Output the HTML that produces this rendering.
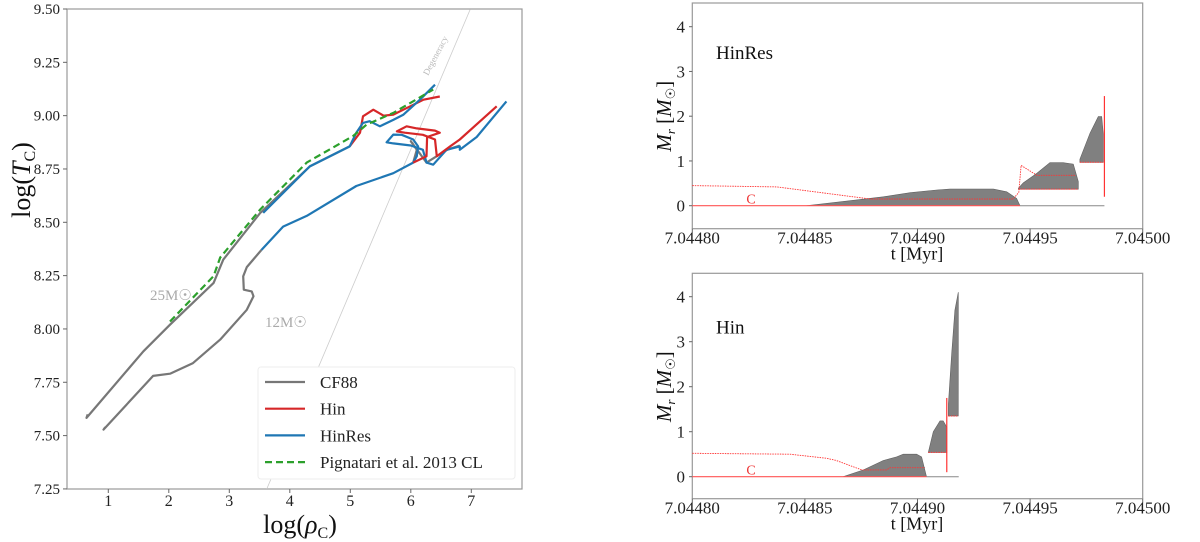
<!DOCTYPE html>
<html><head><meta charset="utf-8">
<style>
body{margin:0;background:#fff;}
svg{display:block;font-family:"Liberation Serif","DejaVu Serif",serif;}
</style></head>
<body>
<svg id="fig" width="1200" height="542" viewBox="0 0 1200 542" xmlns="http://www.w3.org/2000/svg">
<g id="left"></g>
<g id="top"></g>
<g id="bot"></g>
</svg>
<script>
// ---- Left panel data: log(rho_C), log(T_C)
const xTicksL = [1,2,3,4,5,6,7];
const yTicksL = [7.25,7.50,7.75,8.00,8.25,8.50,8.75,9.00,9.25,9.50];
const cf88_25X = [0.66,0.64,1.58,2.02,2.74,2.90,3.51,4.33,4.99];
const cf88_25Y = [7.60,7.583,7.895,8.02,8.216,8.325,8.544,8.762,8.856];
const cf88_12X = [0.95,0.92,1.74,2.02,2.40,2.85,3.29,3.40,3.37,3.24,3.23,3.29,3.53];
const cf88_12Y = [7.54,7.528,7.78,7.79,7.84,7.95,8.09,8.153,8.176,8.184,8.247,8.29,8.37];
const cf88_tailX = [6.04,6.10,6.0,6.26,6.6,6.81];
const cf88_tailY = [8.78,8.84,8.88,8.78,8.84,8.86];
const hinres25X = [3.56,4.33,4.99,5.10,5.21,5.32,5.49,5.71,5.88,6.15,6.40];
const hinres25Y = [8.544,8.762,8.856,8.92,8.966,8.974,8.95,8.98,9.005,9.075,9.145];
const hinres12X = [3.53,3.89,4.28,5.10,5.71,6.04,6.10,6.12,6.04,5.85,5.71,5.60,5.71,6.0,6.20,6.26,6.37,6.59,6.81,6.81,7.09,7.58];
const hinres12Y = [8.37,8.48,8.53,8.67,8.73,8.78,8.81,8.856,8.888,8.91,8.911,8.875,8.87,8.86,8.84,8.78,8.77,8.84,8.856,8.84,8.90,9.067];
const hin25X = [4.99,5.16,5.21,5.38,5.55,5.71,5.99,6.21,6.48];
const hin25Y = [8.856,8.92,8.997,9.028,9.0,9.005,9.044,9.075,9.09];
const hin12X = [6.04,6.26,6.27,6.48,6.40,6.10,5.93,5.77,5.90,6.20,6.40,6.43,6.65,6.81,7.42];
const hin12Y = [8.78,8.81,8.9,8.92,8.93,8.94,8.95,8.926,8.92,8.91,8.888,8.81,8.856,8.888,9.044];
const pigX = [2.02,2.74,2.85,3.51,4.28,5.05,5.27,5.71,6.37];
const pigY = [8.035,8.248,8.335,8.56,8.78,8.905,8.958,9.013,9.122];
const degX = [3.62,6.98];
const degY = [7.25,9.497];

// ---- Right panels data (t offset in 1e-5 Myr from 7.04480)
const xTickLabelsR = ["7.04480","7.04485","7.04490","7.04495","7.04500"];
const xTicksR = [0,5,10,15,20];
const yTicksR = [0,1,2,3,4];
const top_conv1T = [5.08,7.3,8.48,9.67,10.85,11.44,13.37,13.96,14.4,14.55];
const top_conv1M = [0,0.13,0.2,0.29,0.35,0.37,0.37,0.31,0.16,0];
const top_conv2T = [14.48,14.7,15.29,15.88,16.47,16.92,17.14];
const top_conv2M = [0.39,0.51,0.72,0.96,0.96,0.93,0.54];
const top_conv2Base = 0.37;
const top_conv3T = [17.21,17.66,18.03,18.18,18.25];
const top_conv3M = [1.04,1.62,1.99,1.99,1.6];
const top_conv3Base = 0.97;
const top_cT = [0,3.75,7.9,14.25,14.5,14.6,15.3,17.0];
const top_cM = [0.45,0.42,0.15,0.15,0.3,0.9,0.68,0.68];
const bot_conv1T = [6.7,7.6,8.48,9.07,9.37,9.96,10.18,10.4];
const bot_conv1M = [0,0.15,0.36,0.44,0.5,0.5,0.44,0];
const bot_conv2T = [10.48,10.7,11.0,11.14,11.3];
const bot_conv2M = [0.54,1.0,1.24,1.24,1.1];
const bot_conv2Base = 0.54;
const bot_conv3T = [11.37,11.52,11.66,11.81];
const bot_conv3M = [1.62,2.74,3.7,4.1];
const bot_conv3Base = 1.35;
const bot_cT = [0,4.34,5.97,6.4,7.52,8.63,8.78,10.33];
const bot_cM = [0.52,0.5,0.41,0.36,0.15,0.15,0.2,0.2];

const NS='http://www.w3.org/2000/svg';
function mk(parent,tag,attrs,text){const e=document.createElementNS(NS,tag);for(const k in attrs)e.setAttribute(k,attrs[k]);if(text!==undefined)e.textContent=text;parent.appendChild(e);return e;}
function pathFrom(xs,ys,fx,fy){return xs.map((x,i)=>(i?'L':'M')+fx(x).toFixed(1)+','+fy(ys[i]).toFixed(1)).join('');}

// ===== Left panel =====
const L=document.getElementById('left');
const lx=v=>47.8+v*60.5, ly=v=>9+(9.5-v)*213.3;
mk(L,'rect',{x:67,y:9,width:455,height:480,fill:'none',stroke:'#999','stroke-width':1.2,});
xTicksL.forEach(t=>{
  const e=mk(L,'line',{x1:lx(t),x2:lx(t),y1:489,y2:493,stroke:'#666'});
  
  const s=mk(L,'text',{x:lx(t),y:506,'font-size':16,'text-anchor':'middle',fill:'#222'},String(t));
  
});
yTicksL.forEach(t=>{
  const e=mk(L,'line',{x1:63,x2:67,y1:ly(t),y2:ly(t),stroke:'#666'});
  
  const s=mk(L,'text',{x:60,y:ly(t)+5,'font-size':15,'text-anchor':'end',fill:'#222'},t.toFixed(2));
  
});
mk(L,'path',{d:pathFrom(degX,degY,lx,ly),stroke:'#ccc','stroke-width':0.8,fill:'none',});
mk(L,'text',{x:0,y:0,'font-size':9,fill:'#bbb',transform:'translate(428,76) rotate(-62)',},'Degeneracy');
function curve(xs,ys,color,name,dash){const e=mk(L,'path',{d:pathFrom(xs,ys,lx,ly),stroke:color,'stroke-width':2.2,fill:'none','stroke-linejoin':'round'});if(dash)e.setAttribute('stroke-dasharray',dash);}
curve(cf88_25X,cf88_25Y,'#777','cf88-25msun-line');
curve(cf88_12X,cf88_12Y,'#777','cf88-12msun-line');
curve(cf88_tailX,cf88_tailY,'#777','cf88-late-line');
curve(hinres12X,hinres12Y,'#1f77b4','hinres-12msun-line');
curve(hin12X,hin12Y,'#d62728','hin-12msun-line');
curve(hin25X,hin25Y,'#d62728','hin-25msun-line');
curve(hinres25X,hinres25Y,'#1f77b4','hinres-25msun-line');
curve(pigX,pigY,'#2ca02c','pignatari-line','7,4');
mk(L,'text',{x:150,y:300,'font-size':15,fill:'#aaa',},'25M☉');
mk(L,'text',{x:265,y:327,'font-size':15,fill:'#aaa',},'12M☉');
mk(L,'rect',{x:258,y:367,width:257,height:112,rx:3,fill:'#fff',stroke:'#eee',});
const legNames=['CF88','Hin','HinRes','Pignatari et al. 2013 CL'];
const legColors=['#777','#d62728','#1f77b4','#2ca02c'];
legNames.forEach((n,i)=>{const y=382+i*26.7;
  const l=mk(L,'line',{x1:265,x2:305,y1:y,y2:y,stroke:legColors[i],'stroke-width':2.2});
  if(i==3)l.setAttribute('stroke-dasharray','7,4');
  
  const t=mk(L,'text',{x:320,y:y+6,'font-size':17,fill:'#222'},n);
  });
mk(L,'text',{x:0,y:0,'font-size':26,'text-anchor':'middle',transform:'translate(30,180) rotate(-90)',fill:'#111',},'').innerHTML='log(<tspan font-style="italic">T</tspan><tspan font-size="16" dy="5">C</tspan><tspan dy="-5">)</tspan>';
mk(L,'text',{x:300,y:533,'font-size':26,'text-anchor':'middle',fill:'#111',},'').innerHTML='log(<tspan font-style="italic">ρ</tspan><tspan font-size="16" dy="5">C</tspan><tspan dy="-5">)</tspan>';

// ===== Right panels =====
function panel(G,top,bottom,zeroY,unit,label,c1T,c1M,c2T,c2M,c2B,c3T,c3M,c3B,cT,cM,endT,spike){
  const px=t=>692.3+t*22.52, py=m=>zeroY-m*unit;
  mk(G,'rect',{x:692.3,y:top,width:450.4,height:bottom-top,fill:'none',stroke:'#999','stroke-width':1.2,});
  xTicksR.forEach((t,i)=>{const e=mk(G,'line',{x1:px(t),x2:px(t),y1:bottom,y2:bottom+4,stroke:'#666'});
    
    const s=mk(G,'text',{x:px(t),y:bottom+15,'font-size':17,'text-anchor':'middle',fill:'#222'},xTickLabelsR[i]);
    });
  yTicksR.forEach(t=>{const e=mk(G,'line',{x1:689,x2:692.3,y1:py(t),y2:py(t),stroke:'#666'});
    
    const s=mk(G,'text',{x:685,y:py(t)+6,'font-size':17,'text-anchor':'end',fill:'#222'},String(t));
    });
  const area=(ts,ms,b,n)=>{const d=pathFrom(ts,ms,px,py)+'L'+px(ts[ts.length-1])+','+py(b)+'L'+px(ts[0])+','+py(b)+'Z';
    const e=mk(G,'path',{d:d,fill:'#808080',stroke:'#606060','stroke-width':0.6});};
  area(c1T,c1M,0,'convective-zone-1');area(c2T,c2M,c2B,'convective-zone-2');area(c3T,c3M,c3B,'convective-zone-3');
  mk(G,'line',{x1:px(0),x2:px(c1T[c1T.length-1]),y1:py(0),y2:py(0),stroke:'#f55','stroke-width':1.2,});
  mk(G,'line',{x1:px(c1T[c1T.length-1]),x2:px(endT),y1:py(0),y2:py(0),stroke:'#888','stroke-width':1,});
  mk(G,'path',{d:pathFrom(cT,cM,px,py),stroke:'#f33','stroke-width':0.9,'stroke-dasharray':'1.5,1',fill:'none',});
  mk(G,'line',{x1:px(c2T[0]),x2:px(c2T[c2T.length-1]),y1:py(c2B),y2:py(c2B),stroke:'#f33','stroke-width':1,'stroke-dasharray':'1.5,1',});
  mk(G,'line',{x1:px(c3T[0]),x2:px(c3T[c3T.length-1]),y1:py(c3B),y2:py(c3B),stroke:'#f33','stroke-width':1,'stroke-dasharray':'1.5,1',});
  mk(G,'line',{x1:px(spike[0]),x2:px(spike[0]),y1:py(spike[1]),y2:py(spike[2]),stroke:'#f33','stroke-width':1.2,});
  mk(G,'text',{x:px(2.4),y:py(0.05),'font-size':14,fill:'#e33',},'C');
  mk(G,'text',{x:716,y:top+(label=='Hin'?60:56),'font-size':19,fill:'#111',},label);
  mk(G,'text',{x:0,y:0,'font-size':21,'text-anchor':'middle',transform:'translate(671,'+py(2.0)+') rotate(-90)',fill:'#111',},'').innerHTML='<tspan font-style="italic">M</tspan><tspan font-size="13" font-style="italic" dy="4">r</tspan><tspan dy="-4"> [</tspan><tspan font-style="italic">M</tspan><tspan font-size="13" dy="4">☉</tspan><tspan dy="-4">]</tspan>';
  mk(G,'text',{x:917,y:bottom+31,'font-size':18,'text-anchor':'middle',fill:'#111',},'t [Myr]');
}
panel(document.getElementById('top'),3,228.7,205.7,44.75,'HinRes',top_conv1T,top_conv1M,top_conv2T,top_conv2M,top_conv2Base,top_conv3T,top_conv3M,top_conv3Base,top_cT,top_cM,18.3,[18.3,0.2,2.45]);
panel(document.getElementById('bot'),273.3,498.7,476.7,45,'Hin',bot_conv1T,bot_conv1M,bot_conv2T,bot_conv2M,bot_conv2Base,bot_conv3T,bot_conv3M,bot_conv3Base,bot_cT,bot_cM,11.83,[11.3,0.1,1.75]);
</script>
</body></html>
